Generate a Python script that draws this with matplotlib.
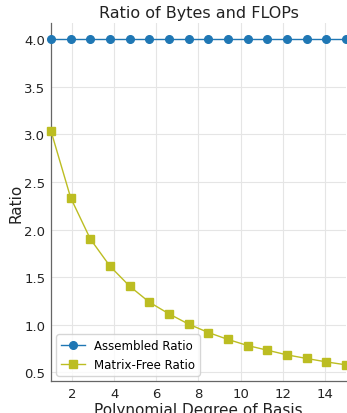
import matplotlib
matplotlib.use("Agg")
import matplotlib.pyplot as plt

degrees = [1.0, 1.933, 2.867, 3.8, 4.733, 5.667, 6.6, 7.533, 8.467, 9.4,
           10.333, 11.267, 12.2, 13.133, 14.067, 15.0]
assembled_ratio = [4.0] * 16
matrix_free_ratio = [3.035, 2.334, 1.90, 1.614, 1.404, 1.236, 1.113, 1.005,
                     0.917, 0.844, 0.78, 0.731, 0.682, 0.644, 0.608, 0.577]

fig = plt.figure(figsize=(3.47, 4.14), dpi=100)
ax = fig.add_axes([0.147, 0.077, 0.85, 0.865])

ax.plot(degrees, assembled_ratio, marker='o', color='#1f77b4', lw=1.0,
        markersize=5.5, label='Assembled Ratio', clip_on=False, zorder=3)
ax.plot(degrees, matrix_free_ratio, marker='s', color='#bcbd22', lw=1.0,
        markersize=5.5, label='Matrix-Free Ratio', clip_on=False, zorder=3)

ax.set_xlim(1, 15)
ax.set_xticks([2, 4, 6, 8, 10, 12, 14])
ax.set_yticks([0.5, 1.0, 1.5, 2.0, 2.5, 3.0, 3.5, 4.0])
ax.grid(True, color='#e5e5e5', lw=0.8)
ax.set_axisbelow(True)
for s in ['top', 'right']:
    ax.spines[s].set_visible(False)
for s in ['left', 'bottom']:
    ax.spines[s].set_color('#666666')
    ax.spines[s].set_linewidth(0.9)
ax.tick_params(length=0, labelsize=9.5, colors='#222222', pad=4)

ax.set_title('Ratio of Bytes and FLOPs', fontsize=11.5, color='#222222', pad=4)
ax.set_xlabel('Polynomial Degree of Basis', fontsize=11, color='#222222', labelpad=1.5)
ax.set_ylabel('Ratio', fontsize=11, color='#222222', labelpad=0.5)

leg = ax.legend(loc='lower left', fontsize=8.5, frameon=True, borderaxespad=0.45)
leg.get_frame().set_edgecolor('#cccccc')

fig.savefig('out.png', dpi=100)
